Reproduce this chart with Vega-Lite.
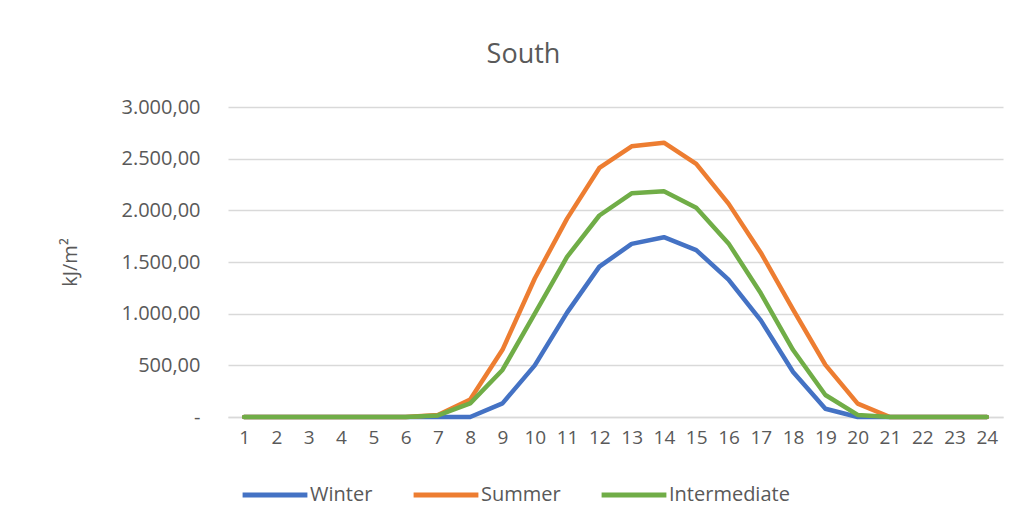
{
  "$schema": "https://vega.github.io/schema/vega-lite/v6.json",
  "autosize": "none",
  "width": 775,
  "height": 310,
  "padding": {"left": 228, "top": 107, "right": 27, "bottom": 114},
  "background": "white",
  "title": {
    "text": "South",
    "fontSize": 27,
    "font": "Open Sans",
    "fontWeight": "normal",
    "color": "#595959",
    "anchor": "middle",
    "dx": -92,
    "offset": 28
  },
  "data": {
    "values": [
      {"hour": 1, "season": "Winter", "value": 0},
      {"hour": 2, "season": "Winter", "value": 0},
      {"hour": 3, "season": "Winter", "value": 0},
      {"hour": 4, "season": "Winter", "value": 0},
      {"hour": 5, "season": "Winter", "value": 0},
      {"hour": 6, "season": "Winter", "value": 0},
      {"hour": 7, "season": "Winter", "value": 0},
      {"hour": 8, "season": "Winter", "value": 0},
      {"hour": 9, "season": "Winter", "value": 132},
      {"hour": 10, "season": "Winter", "value": 500},
      {"hour": 11, "season": "Winter", "value": 1010},
      {"hour": 12, "season": "Winter", "value": 1455},
      {"hour": 13, "season": "Winter", "value": 1675},
      {"hour": 14, "season": "Winter", "value": 1740},
      {"hour": 15, "season": "Winter", "value": 1615},
      {"hour": 16, "season": "Winter", "value": 1330},
      {"hour": 17, "season": "Winter", "value": 935},
      {"hour": 18, "season": "Winter", "value": 435},
      {"hour": 19, "season": "Winter", "value": 80},
      {"hour": 20, "season": "Winter", "value": 0},
      {"hour": 21, "season": "Winter", "value": 0},
      {"hour": 22, "season": "Winter", "value": 0},
      {"hour": 23, "season": "Winter", "value": 0},
      {"hour": 24, "season": "Winter", "value": 0},
      {"hour": 1, "season": "Summer", "value": 0},
      {"hour": 2, "season": "Summer", "value": 0},
      {"hour": 3, "season": "Summer", "value": 0},
      {"hour": 4, "season": "Summer", "value": 0},
      {"hour": 5, "season": "Summer", "value": 0},
      {"hour": 6, "season": "Summer", "value": 0},
      {"hour": 7, "season": "Summer", "value": 20},
      {"hour": 8, "season": "Summer", "value": 170},
      {"hour": 9, "season": "Summer", "value": 650},
      {"hour": 10, "season": "Summer", "value": 1340},
      {"hour": 11, "season": "Summer", "value": 1920},
      {"hour": 12, "season": "Summer", "value": 2410},
      {"hour": 13, "season": "Summer", "value": 2620},
      {"hour": 14, "season": "Summer", "value": 2655},
      {"hour": 15, "season": "Summer", "value": 2450},
      {"hour": 16, "season": "Summer", "value": 2065},
      {"hour": 17, "season": "Summer", "value": 1590},
      {"hour": 18, "season": "Summer", "value": 1040},
      {"hour": 19, "season": "Summer", "value": 505},
      {"hour": 20, "season": "Summer", "value": 130},
      {"hour": 21, "season": "Summer", "value": 0},
      {"hour": 22, "season": "Summer", "value": 0},
      {"hour": 23, "season": "Summer", "value": 0},
      {"hour": 24, "season": "Summer", "value": 0},
      {"hour": 1, "season": "Intermediate", "value": 0},
      {"hour": 2, "season": "Intermediate", "value": 0},
      {"hour": 3, "season": "Intermediate", "value": 0},
      {"hour": 4, "season": "Intermediate", "value": 0},
      {"hour": 5, "season": "Intermediate", "value": 0},
      {"hour": 6, "season": "Intermediate", "value": 0},
      {"hour": 7, "season": "Intermediate", "value": 15},
      {"hour": 8, "season": "Intermediate", "value": 132},
      {"hour": 9, "season": "Intermediate", "value": 455},
      {"hour": 10, "season": "Intermediate", "value": 1000},
      {"hour": 11, "season": "Intermediate", "value": 1550},
      {"hour": 12, "season": "Intermediate", "value": 1950},
      {"hour": 13, "season": "Intermediate", "value": 2165},
      {"hour": 14, "season": "Intermediate", "value": 2185},
      {"hour": 15, "season": "Intermediate", "value": 2025},
      {"hour": 16, "season": "Intermediate", "value": 1680},
      {"hour": 17, "season": "Intermediate", "value": 1197},
      {"hour": 18, "season": "Intermediate", "value": 648},
      {"hour": 19, "season": "Intermediate", "value": 213},
      {"hour": 20, "season": "Intermediate", "value": 20},
      {"hour": 21, "season": "Intermediate", "value": 0},
      {"hour": 22, "season": "Intermediate", "value": 0},
      {"hour": 23, "season": "Intermediate", "value": 0},
      {"hour": 24, "season": "Intermediate", "value": 0}
    ]
  },
  "mark": {"type": "line", "strokeWidth": 4.5, "strokeJoin": "round", "strokeCap": "round"},
  "encoding": {
    "x": {
      "field": "hour",
      "type": "ordinal",
      "scale": {"type": "point", "padding": 0.5},
      "axis": {
        "title": null,
        "labelAngle": 0,
        "ticks": false,
        "grid": false,
        "domain": true,
        "domainColor": "#d9d9d9",
        "domainWidth": 1.5,
        "labelFont": "Open Sans",
        "labelFontSize": 19,
        "labelColor": "#595959",
        "labelPadding": 11
      }
    },
    "y": {
      "field": "value",
      "type": "quantitative",
      "scale": {"domain": [0, 3000], "nice": false},
      "axis": {
        "title": "kJ/m²",
        "titleFont": "Open Sans",
        "titleFontSize": 20,
        "titleFontWeight": "normal",
        "titleColor": "#595959",
        "titlePadding": 40,
        "values": [0, 500, 1000, 1500, 2000, 2500, 3000],
        "labelExpr": "datum.value == 0 ? '-' : replace(replace(replace(format(datum.value, ',.2f'), ',', '#'), '.', ','), '#', '.')",
        "labelFont": "Open Sans",
        "labelFontSize": 20,
        "labelColor": "#595959",
        "labelPadding": 28,
        "ticks": false,
        "domain": false,
        "grid": true,
        "gridColor": "#d9d9d9",
        "gridWidth": 1.5
      }
    },
    "color": {
      "field": "season",
      "type": "nominal",
      "sort": ["Winter", "Summer", "Intermediate"],
      "scale": {"domain": ["Winter", "Summer", "Intermediate"], "range": ["#4472C4", "#ED7D31", "#70AD47"]},
      "legend": {
        "title": null,
        "orient": "none",
        "direction": "horizontal",
        "legendX": 12,
        "legendY": 353,
        "padding": 0,
        "symbolType": "stroke",
        "symbolSize": 4200,
        "symbolStrokeWidth": 5,
        "labelFont": "Open Sans",
        "labelFontSize": 20,
        "labelColor": "#595959",
        "labelOffset": 0,
        "columnPadding": 30
      }
    }
  },
  "config": {
    "view": {"stroke": null}
  }
}
